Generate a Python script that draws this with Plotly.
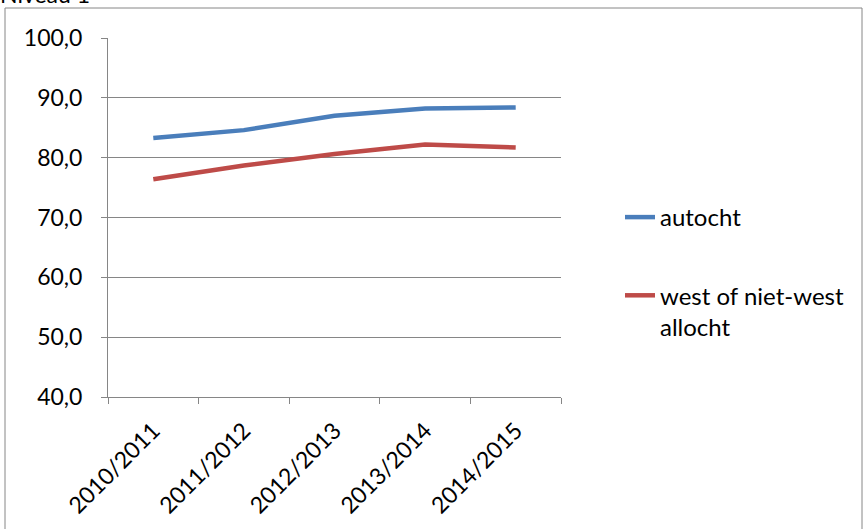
import plotly.graph_objects as go

categories = ["2010/2011", "2011/2012", "2012/2013", "2013/2014", "2014/2015"]
autocht = [83.3, 84.6, 87.0, 88.2, 88.4]
allocht = [76.4, 78.7, 80.6, 82.2, 81.7]
series_names = ["autocht", "west of niet-west<br>allocht"]
y_ticks = [40, 50, 60, 70, 80, 90, 100]
y_tick_labels = ["40,0", "50,0", "60,0", "70,0", "80,0", "90,0", "100,0"]

W, H = 864, 529
L, R, T, B = 108, 303, 38, 132
pw, ph = W - L - R, H - T - B

def px_x(p):
    return (p - L) / pw

def px_y(p):
    return (H - B - p) / ph

font = "Lato, 'Open Sans', sans-serif"
grid = "#868686"

fig = go.Figure()
fig.add_trace(go.Scatter(x=categories, y=autocht, mode="lines", name=series_names[0],
                         legendgroup="a",
                         line=dict(color="#4A7EBB", width=4.5)))
fig.add_trace(go.Scatter(x=categories, y=allocht, mode="lines", name=series_names[1],
                         legendgroup="b",
                         line=dict(color="#BE4B48", width=4.5)))

fig.update_layout(
    width=W, height=H,
    margin=dict(l=L, r=R, t=T, b=B, autoexpand=False),
    paper_bgcolor="white", plot_bgcolor="white",
    font=dict(family=font, size=23, color="black"),
    showlegend=True,
    legend=dict(x=px_x(620), y=px_y(195), xanchor="left", yanchor="top",
                font=dict(size=24), tracegroupgap=44, itemwidth=30, valign="top",
                bgcolor="rgba(0,0,0,0)"),
    xaxis=dict(type="category", tickangle=-45, showgrid=False, showline=True,
               linecolor=grid, linewidth=1, ticks="outside", tickson="boundaries",
               ticklen=6, tickcolor=grid, tickfont=dict(size=23), range=[-0.5, 4.5],
               ticklabelstandoff=10, automargin=False),
    yaxis=dict(range=[40, 100], tickvals=y_ticks, ticktext=y_tick_labels,
               showgrid=True, gridcolor=grid, gridwidth=1, showline=True,
               linecolor=grid, linewidth=1, ticks="outside", ticklen=6,
               tickcolor=grid, tickfont=dict(size=23), zeroline=False,
               ticklabelstandoff=14, automargin=False),
    shapes=[dict(type="rect", xref="paper", yref="paper",
                 x0=px_x(5), x1=px_x(862), y0=px_y(540), y1=px_y(8),
                 line=dict(color="#868686", width=1), layer="below")],
    annotations=[dict(text="Niveau 1", xref="paper", yref="paper",
                      x=px_x(-2), y=px_y(10), xanchor="left", yanchor="bottom",
                      showarrow=False, font=dict(size=23))],
)

fig.write_html("out.html", config={"displayModeBar": False},
               post_script="document.body.style.margin='0';document.body.style.overflow='hidden';")
